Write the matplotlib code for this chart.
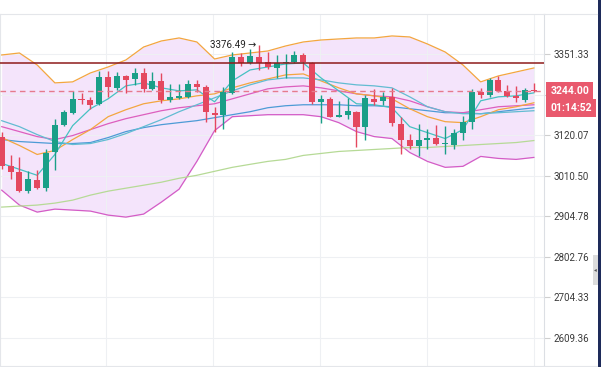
import numpy as np
import matplotlib.pyplot as plt
from matplotlib.patches import Rectangle
from matplotlib.lines import Line2D
from matplotlib.ticker import FixedLocator, FixedFormatter, NullLocator

plt.rcParams['font.family'] = ['Roboto', 'DejaVu Sans']

# svechi (OHLC)
opens = [3116.1, 3035.5, 3019.6, 2969.8, 2998.5, 2977.6, 3072.8, 3149.0, 3182.3, 3221.5,
         3218.7, 3207.5, 3284.3, 3252.8, 3287.2, 3278.5, 3296.0, 3249.9, 3272.8, 3218.7,
         3224.4, 3227.2, 3264.2, 3255.6, 3182.3, 3176.8, 3238.5, 3342.5, 3324.9, 3342.5,
         3327.8, 3310.3, 3324.9, 3327.8, 3348.4, 3324.9, 3213.1, 3221.5, 3171.2, 3176.8,
         3185.1, 3143.5, 3221.5, 3215.9, 3227.2, 3151.8, 3108.0, 3089.0, 3108.0, 3113.4,
         3097.1, 3094.4, 3127.0, 3157.3, 3241.4, 3232.8, 3275.7, 3244.2, 3230.0, 3218.7,
         3246.5]
highs = [3129.8, 3064.8, 3059.4, 3022.2, 3024.9, 3080.9, 3165.7, 3190.7, 3244.2, 3238.5,
         3227.2, 3301.6, 3301.6, 3298.7, 3289.0, 3310.3, 3310.3, 3298.7, 3296.0, 3264.2,
         3264.2, 3275.7, 3275.7, 3261.4, 3199.1, 3255.6, 3357.2, 3354.3, 3366.1, 3376.49,
         3357.2, 3348.4, 3351.3, 3360.2, 3354.3, 3327.8, 3232.8, 3227.2, 3215.9, 3224.4,
         3187.0, 3232.8, 3250.0, 3241.4, 3252.8, 3171.2, 3124.3, 3151.8, 3138.0, 3149.0,
         3146.3, 3138.0, 3174.0, 3250.0, 3252.8, 3281.4, 3287.2, 3261.4, 3258.5, 3252.8,
         3267.1]
lows = [3027.5, 3001.1, 2967.0, 2964.6, 2975.0, 2969.8, 3024.9, 3146.3, 3180.0, 3207.5,
        3193.5, 3204.7, 3227.2, 3247.1, 3238.5, 3261.4, 3241.4, 3247.1, 3210.3, 3213.1,
        3222.0, 3225.0, 3241.4, 3157.3, 3129.8, 3138.0, 3236.0, 3316.2, 3322.0, 3304.5,
        3307.4, 3281.4, 3281.4, 3326.0, 3304.5, 3207.5, 3154.6, 3169.0, 3169.0, 3165.7,
        3086.3, 3108.0, 3204.7, 3204.7, 3146.3, 3067.4, 3080.9, 3062.1, 3080.9, 3094.4,
        3067.4, 3080.9, 3108.0, 3138.0, 3224.4, 3227.2, 3241.0, 3227.2, 3213.1, 3213.1,
        3241.4]
closes = [3035.5, 3019.6, 2969.8, 3001.1, 2977.6, 3070.1, 3149.0, 3185.1, 3221.5, 3218.7,
          3204.7, 3284.3, 3255.6, 3287.2, 3275.7, 3296.0, 3249.9, 3272.8, 3218.7, 3227.2,
          3230.0, 3264.2, 3255.6, 3185.1, 3176.8, 3241.4, 3342.5, 3324.9, 3345.4, 3324.9,
          3313.2, 3324.9, 3327.8, 3348.4, 3327.8, 3213.1, 3221.5, 3171.2, 3176.8, 3187.9,
          3143.5, 3224.4, 3213.1, 3227.2, 3154.6, 3108.0, 3089.0, 3108.0, 3113.4, 3097.1,
          3099.8, 3127.0, 3157.3, 3241.4, 3232.8, 3275.7, 3244.2, 3230.0, 3224.4, 3247.1,
          3244.00]

# linii indikatorov (kazhdaya vtoraya svecha)
line_idx = list(range(0, 61, 2))
boll_up = [3348.4, 3354.3, 3319.1, 3267.1, 3270.0, 3295.8, 3313.2, 3333.7, 3372.0, 3390.0,
           3399.0, 3387.0, 3336.6, 3348.4, 3354.3, 3360.2, 3375.0, 3387.0, 3392.9, 3396.0,
           3399.0, 3399.0, 3405.0, 3402.0, 3381.0, 3357.2, 3319.1, 3270.0, 3287.2, 3298.7,
           3310.3]
boll_dn = [2972.4, 2933.6, 2915.5, 2923.2, 2920.7, 2918.1, 2907.8, 2902.7, 2910.4, 2941.3,
           2975.0, 3048.7, 3132.6, 3171.2, 3174.0, 3176.8, 3176.8, 3176.8, 3171.2, 3154.6,
           3129.8, 3116.1, 3110.7, 3072.8, 3048.7, 3032.8, 3035.5, 3062.1, 3056.7, 3054.1,
           3059.4]
ma5 = [3043.4, 3027.5, 3011.6, 3067.4, 3146.3, 3193.5, 3221.5, 3258.5, 3267.1, 3252.8,
       3244.2, 3247.1, 3213.1, 3272.8, 3304.5, 3313.2, 3322.0, 3324.9, 3281.4, 3244.2,
       3207.5, 3204.7, 3196.3, 3143.5, 3127.0, 3110.7, 3135.3, 3215.9, 3227.2, 3230.0,
       3238.5]
ma10 = [3160.1, 3143.5, 3121.6, 3102.5, 3094.4, 3097.1, 3108.0, 3124.3, 3143.5, 3162.9,
        3185.1, 3204.7, 3224.4, 3244.2, 3261.4, 3275.7, 3281.4, 3281.4, 3275.7, 3267.1,
        3261.4, 3258.5, 3252.8, 3227.2, 3199.1, 3185.1, 3179.5, 3179.5, 3182.3, 3185.1,
        3187.9]
ma20 = [3113.4, 3091.7, 3067.4, 3078.2, 3108.0, 3135.3, 3171.2, 3190.7, 3207.5, 3215.9,
        3221.5, 3230.0, 3235.7, 3252.8, 3267.1, 3278.5, 3290.1, 3293.0, 3272.8, 3252.8,
        3235.7, 3230.0, 3221.5, 3193.5, 3171.2, 3157.3, 3154.6, 3171.2, 3190.7, 3199.1,
        3210.3]
ma30 = [3143.5, 3129.8, 3116.1, 3108.0, 3118.9, 3135.3, 3151.8, 3165.7, 3176.8, 3187.9,
        3196.3, 3201.9, 3207.5, 3221.5, 3235.7, 3250.0, 3255.6, 3258.5, 3252.8, 3244.2,
        3235.7, 3230.0, 3227.2, 3215.9, 3199.1, 3185.1, 3182.3, 3190.7, 3199.1, 3201.9,
        3204.7]
ma60 = [3108.0, 3102.5, 3099.8, 3097.1, 3097.1, 3099.8, 3113.4, 3129.8, 3140.8, 3149.0,
        3154.6, 3160.1, 3168.4, 3176.8, 3185.1, 3196.3, 3201.9, 3204.7, 3204.7, 3204.7,
        3201.9, 3201.9, 3199.1, 3193.5, 3187.9, 3182.3, 3182.3, 3179.5, 3185.1, 3190.7,
        3196.3]
ma120 = [2928.4, 2931.0, 2933.6, 2938.7, 2946.4, 2959.4, 2969.8, 2977.6, 2985.4, 2993.3,
         3003.7, 3011.6, 3022.2, 3032.8, 3040.8, 3048.7, 3054.1, 3064.8, 3070.1, 3075.5,
         3078.2, 3080.9, 3083.6, 3086.3, 3086.3, 3089.0, 3091.7, 3094.4, 3097.1, 3099.8,
         3105.2]

last_price = 3244.00
countdown = "01:14:52"
level_line = 3325.0
max_high = 3376.49
y_ticks = [3351.33, 3233.68, 3120.07, 3010.50, 2904.78, 2802.76, 2704.33, 2609.36]
# metka 3233.68 zakryta plashkoy ceny
y_labels = ['3351.33', '', '3120.07', '3010.50', '2904.78', '2802.76', '2704.33', '2609.36']

UP = '#1a9f88'
DOWN = '#e4485f'

fig = plt.figure(figsize=(6.01, 3.67), dpi=100)
ax = fig.add_axes([0, 1 / 367, 544 / 601, 352 / 367])

ax.set_yscale('log')
ax.set_ylim(2545.8, 3471.5)
ax.set_xlim(-0.19, 61.14)

# Bollinger + skolzyashchie srednie
ax.fill_between(line_idx, boll_dn, boll_up, color='#f4e4fb', lw=0, zorder=0.2)
ax.plot(line_idx, boll_up, color='#f3a640', lw=0.9, zorder=2)
ax.plot(line_idx, boll_dn, color='#d45cc6', lw=0.9, zorder=2)
ax.plot(line_idx, ma120, color='#b6da96', lw=0.9, zorder=2)
ax.plot(line_idx, ma60, color='#4d9bd6', lw=0.9, zorder=2)
ax.plot(line_idx, ma30, color='#dd5fbe', lw=0.9, zorder=2)
ax.plot(line_idx, ma20, color='#f3a640', lw=0.9, zorder=2)
ax.plot(line_idx, ma10, color='#62bcd2', lw=0.9, zorder=2)
ax.plot(line_idx, ma5, color='#46c1c2', lw=0.9, zorder=2)

# svechi
idx = np.arange(len(opens))
o = np.array(opens)
c = np.array(closes)
colors = [UP if cc >= oo else DOWN for oo, cc in zip(o, c)]
ax.vlines(idx, lows, highs, colors=colors, lw=1, zorder=3)
bottom = np.minimum(o, c)
height = np.maximum(np.abs(c - o), bottom * 0.0009)
ax.bar(idx, height, bottom=bottom, width=0.68, color=colors, lw=0, zorder=4)

# urovni
ax.axhline(level_line, color='#8e1b1b', lw=1.1, zorder=5)
ax.axhline(last_price, color='#e57b8c', lw=1, ls=(0, (4, 3)), zorder=5)

ax.annotate(f'{max_high:.2f} →', xy=(29, max_high), xytext=(-2, 0.5),
            textcoords='offset points', ha='right', va='center',
            fontsize=7, color='#222222', zorder=6)

# osi
ax.yaxis.tick_right()
ax.yaxis.set_major_locator(FixedLocator(y_ticks))
ax.yaxis.set_major_formatter(FixedFormatter(y_labels))
ax.yaxis.set_minor_locator(NullLocator())
ax.tick_params(axis='y', length=4, width=0.8, color='#cfcfcf', labelsize=7,
               labelcolor='#3a3a3a', pad=3)
ax.set_xticks([11.75, 23.8, 35.85, 47.95, 60.0])
ax.set_xticklabels([])
ax.tick_params(axis='x', length=0)
ax.set_axisbelow(True)
ax.grid(True, color='#eef0f3', lw=0.8)
for side in ['top', 'bottom', 'left']:
    ax.spines[side].set_color('#e4e6ea')
ax.spines['right'].set_color('#dcdfe4')

# metki tekushchey ceny
box = dict(boxstyle='square,pad=0.38', fc='#e9596d', ec='none')
ax.annotate(f'{last_price:.2f}', xy=(1.0, last_price), xycoords=('axes fraction', 'data'),
            xytext=(4.5, 0), textcoords='offset points', ha='left', va='center',
            fontsize=7.5, fontweight='bold', color='white', bbox=box,
            annotation_clip=False, zorder=10)
ax.annotate(countdown, xy=(1.0, last_price), xycoords=('axes fraction', 'data'),
            xytext=(4.5, -12.5), textcoords='offset points', ha='left', va='center',
            fontsize=7.5, fontweight='bold', color='white', bbox=box,
            annotation_clip=False, zorder=10)

# ramka sprava
fig.add_artist(Line2D([544 / 601, 597 / 601], [353 / 367, 353 / 367],
                      transform=fig.transFigure, color='#e4e6ea', lw=0.8))
fig.add_artist(Line2D([544 / 601, 597 / 601], [1 / 367, 1 / 367],
                      transform=fig.transFigure, color='#e4e6ea', lw=0.8))
fig.add_artist(Rectangle((598 / 601, 0), 3 / 601, 1, transform=fig.transFigure,
                         color='#1e2b5a', lw=0))
fig.add_artist(Rectangle((593 / 601, 82 / 367), 5 / 601, 30 / 367,
                         transform=fig.transFigure, color='#dcdcdc', lw=0))
fig.text(595.5 / 601, 97 / 367, '◂', fontsize=4, color='#555555',
         ha='center', va='center', family='DejaVu Sans')

fig.savefig('out.png', dpi=100)
